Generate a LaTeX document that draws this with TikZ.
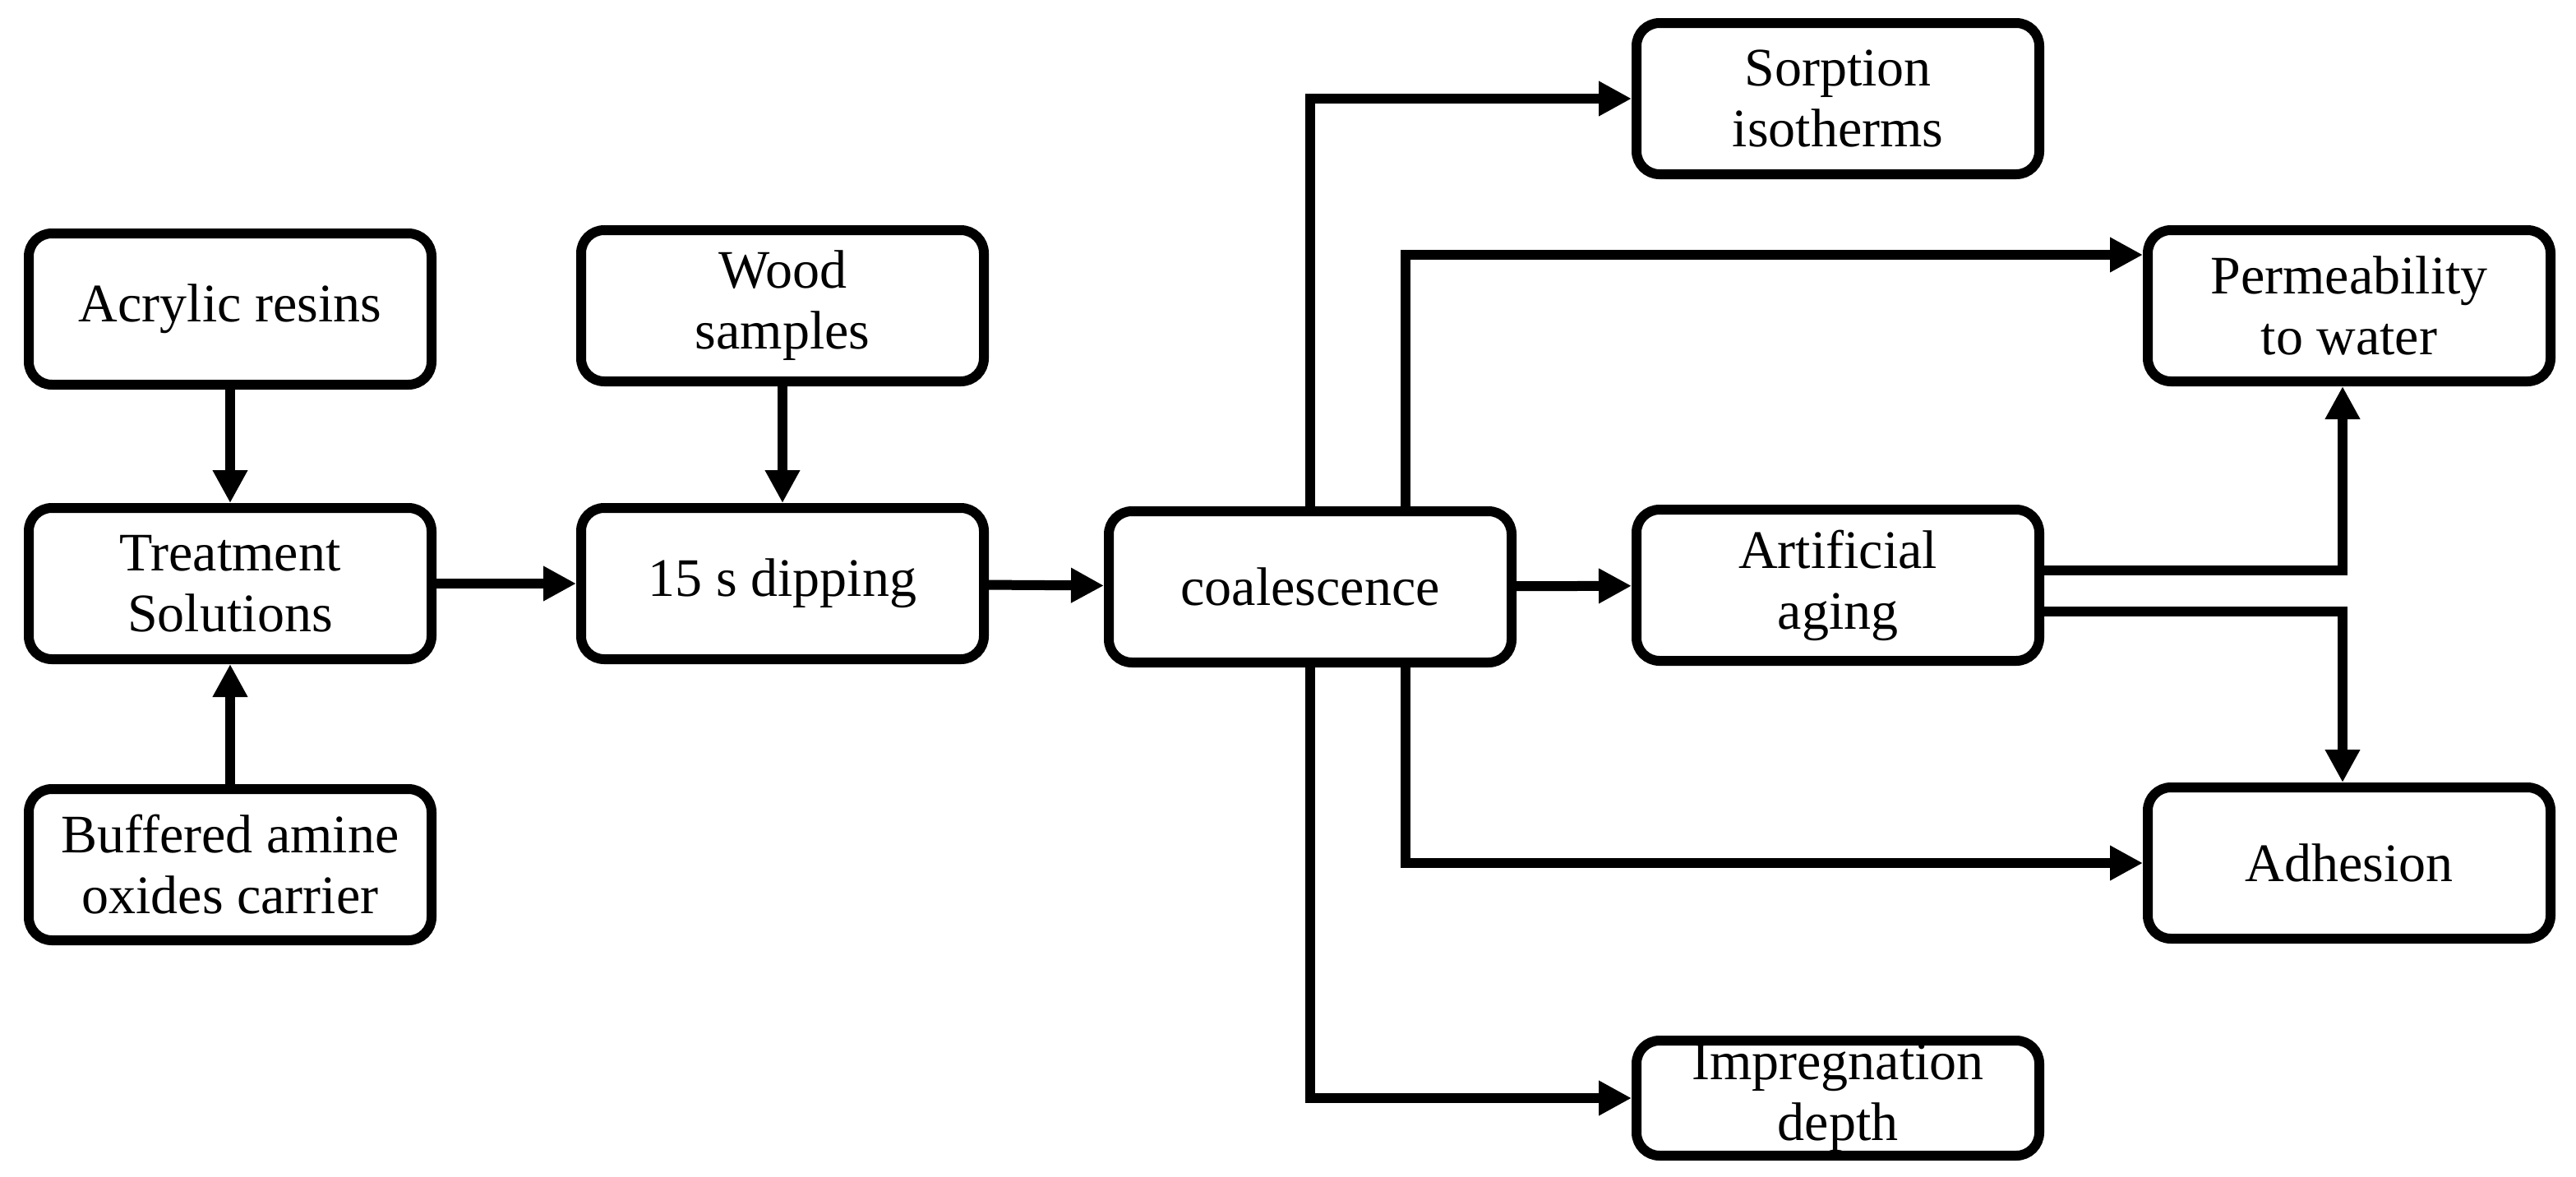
\documentclass[tikz,border=0pt]{standalone}
\usepackage{fontspec}
\setmainfont{Liberation Serif}
\usetikzlibrary{arrows.meta}
\begin{document}
\begin{tikzpicture}[x=1pt,y=-1pt,
  box/.style={draw,line width=6pt,rounded corners=14pt,minimum width=245pt,minimum height=92pt,align=center,inner sep=0pt,font=\fontsize{33}{37}\selectfont},
  arr/.style={line width=6pt,-{Triangle[length=20pt,width=20pt]}}]
\useasboundingbox (0,0) rectangle (1567,715.5);
\node[box] (acr) at (140,188) {Acrylic resins};
\node[box] (tre) at (140,355) {Treatment\\Solutions};
\node[box] (buf) at (140,526) {Buffered amine\\oxides carrier};
\node[box] (woo) at (476,186) {Wood\\samples};
\node[box] (dip) at (476,355) {15 s dipping};
\node[box] (coa) at (797,357) {coalescence};
\node[box] (sor) at (1118,60) {Sorption\\isotherms};
\node[box] (per) at (1429,186) {Permeability\\to water};
\node[box] (art) at (1118,356) {Artificial\\aging};
\node[box] (adh) at (1429,525) {Adhesion};
\node[box,minimum height=70pt] (imp) at (1118,668) {Impregnation\\depth};
\draw[arr] (acr) -- (tre);
\draw[arr] (buf) -- (tre);
\draw[arr] (tre) -- (dip);
\draw[arr] (woo) -- (dip);
\draw[arr] (dip) -- (coa);
\draw[arr] (coa) -- (art);
\draw[arr] (coa.north -| 797,0) |- (sor.west);
\draw[arr] (coa.north -| 855,0) |- (per.west |- 0,155);
\draw[arr] (coa.south -| 855,0) |- (adh.west);
\draw[arr] (coa.south -| 797,0) |- (imp.west);
\draw[arr] (art.east |- 0,347) -| (per.south -| 1425,0);
\draw[arr] (art.east |- 0,372) -| (adh.north -| 1425,0);
\end{tikzpicture}
\end{document}
